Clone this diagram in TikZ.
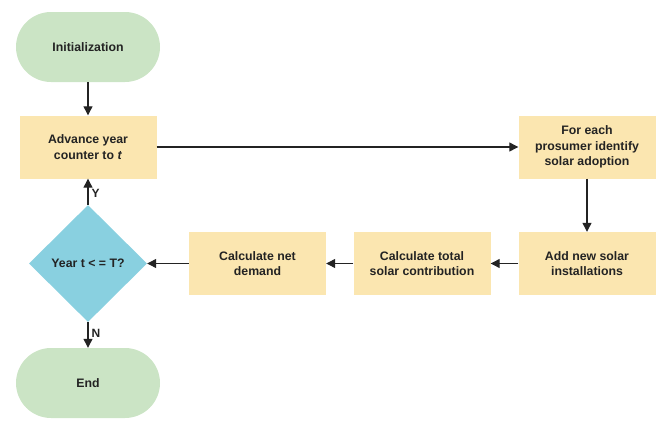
\documentclass[tikz,border=0pt]{standalone}
\usepackage{fontspec}
\setmainfont{Liberation Sans}
\usetikzlibrary{shapes.geometric,arrows.meta}
\definecolor{termgreen}{RGB}{203,228,197}
\definecolor{procyellow}{RGB}{251,230,176}
\definecolor{decblue}{RGB}{137,208,224}
\definecolor{inkgray}{RGB}{35,35,35}
\tikzset{
  txt/.style={font=\fontsize{12.3}{15.5}\selectfont\bfseries, text=inkgray, align=center},
  terminal/.style={txt, fill=termgreen, rounded corners=35pt, minimum width=144pt, minimum height=70pt, inner sep=0pt},
  procbox/.style={txt, fill=procyellow, minimum width=137pt, minimum height=63pt, inner sep=0pt},
  decision/.style={txt, diamond, fill=decblue, minimum width=118pt, minimum height=117pt, inner sep=0pt},
  flow/.style={draw=inkgray, line width=1.2pt, -{Triangle[length=9pt,width=9pt]}},
  lbl/.style={font=\fontsize{12}{14}\selectfont\bfseries, text=inkgray, inner sep=1pt}
}
\begin{document}
\begin{tikzpicture}[x=1pt,y=1pt]
\useasboundingbox (0,0) rectangle (661,-423);
\node[terminal] (init) at (88,-47) {Initialization};
\node[procbox] (adv) at (88,-147) {Advance year\\counter to \textit{t}};
\node[procbox] (each) at (587,-147) {For each\\prosumer identify\\solar adoption};
\node[procbox] (add) at (587,-263.5) {Add new solar\\installations};
\node[procbox] (total) at (422,-263.5) {Calculate total\\solar contribution};
\node[procbox] (net) at (257.5,-263.5) {Calculate net\\demand};
\node[decision] (dec) at (88,-263.5) {Year t < = T?};
\node[terminal] (fin) at (88,-383) {End};
\draw[flow] (init.south) -- (adv.north);
\draw[flow] (adv.east) -- (each.west);
\draw[flow] (each.south) -- (add.north);
\draw[flow] (add.west) -- (total.east);
\draw[flow] (total.west) -- (net.east);
\draw[flow] (net.west) -- (dec.east);
\draw[flow] (dec.north) -- node[lbl, pos=0.45, anchor=west, xshift=2pt] (ylab) {Y} (adv.south);
\draw[flow] (dec.south) -- node[lbl, pos=0.45, anchor=west, xshift=2pt] (nlab) {N} (fin.north);
\end{tikzpicture}
\end{document}
